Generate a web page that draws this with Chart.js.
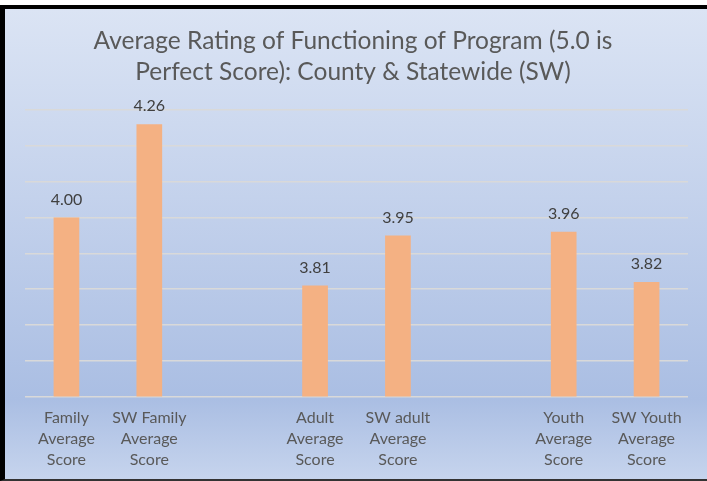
<!DOCTYPE html>
<html>
<head>
<meta charset="utf-8">
<script src="https://cdn.jsdelivr.net/npm/chart.js@4/dist/chart.umd.min.js"></script>
<style>
  html, body { margin: 0; padding: 0; background: #ffffff; }
  #frame {
    position: absolute; left: 0; top: 5px;
    width: 702px; height: 470px;
    border-top: 4px solid #000;
    border-left: 5px solid #000;
    border-bottom: 2px solid #333;
    background: linear-gradient(to bottom, #dbe4f4 0%, #c4d2ec 40%, #aabee3 83%, #c6d4ed 100%);
  }
  canvas { display: block; }
</style>
</head>
<body>
<div id="frame"><canvas id="chart" width="702" height="470"></canvas></div>
<script>
// Chart data
const categories = [
    ['Family', 'Average', 'Score'],
    ['SW Family', 'Average', 'Score'],
    '',
    ['Adult', 'Average', 'Score'],
    ['SW adult', 'Average', 'Score'],
    '',
    ['Youth', 'Average', 'Score'],
    ['SW Youth', 'Average', 'Score']
];
const scores = [4.00, 4.26, null, 3.81, 3.95, null, 3.96, 3.82];
const titleLines = ['Average Rating of Functioning of Program (5.0 is', 'Perfect Score): County & Statewide (SW)'];

// Value labels above each bar
const valueLabels = {
    id: 'valueLabels',
    afterDatasetsDraw(chart) {
        const ctx = chart.ctx;
        const meta = chart.getDatasetMeta(0);
        ctx.save();
        ctx.font = '16px Lato, "Open Sans", sans-serif';
        ctx.fillStyle = '#404040';
        ctx.textAlign = 'center';
        ctx.textBaseline = 'middle';
        meta.data.forEach((bar, i) => {
            if (scores[i] == null) return;
            ctx.fillText(scores[i].toFixed(2), bar.x, bar.y - 18);
        });
        ctx.restore();
    }
};

new Chart(document.getElementById('chart').getContext('2d'), {
    type: 'bar',
    data: {
        labels: categories,
        datasets: [{
            data: scores,
            backgroundColor: '#f4b183',
            barPercentage: 0.31,
            categoryPercentage: 1.0
        }]
    },
    options: {
        responsive: false,
        animation: false,
        layout: { padding: { left: 13, right: 19, top: 0, bottom: -2 } },
        plugins: {
            legend: { display: false },
            tooltip: { enabled: false },
            title: {
                display: true,
                text: titleLines,
                color: '#595959',
                font: { family: 'Lato, "Open Sans", sans-serif', size: 24.5, weight: 'normal', lineHeight: 1.265 },
                padding: { top: 17, bottom: 22 }
            }
        },
        scales: {
            x: {
                grid: { display: false, drawTicks: false },
                border: { display: false },
                ticks: {
                    color: '#595959',
                    font: { family: 'Lato, "Open Sans", sans-serif', size: 16, lineHeight: 1.3 },
                    autoSkip: false,
                    maxRotation: 0,
                    padding: 11
                }
            },
            y: {
                min: 3.5,
                max: 4.3,
                ticks: { display: false, stepSize: 0.1 },
                grid: { color: '#d9d9d9', lineWidth: 1.5, drawTicks: false },
                border: { display: false },
                afterFit(scale) { scale.width = 7; }
            }
        }
    },
    plugins: [valueLabels]
});
</script>
</body>
</html>
